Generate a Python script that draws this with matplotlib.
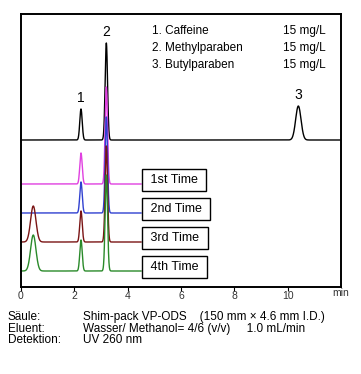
import numpy as np
import matplotlib
matplotlib.use('Agg')
import matplotlib.pyplot as plt

plt.rcParams['font.family'] = ['Liberation Sans', 'DejaVu Sans']

# Peak tables (retention time in min, height, sigma) per trace
std_rt = [2.25, 3.2, 10.4]
std_height = [31, 97, 34]
std_sigma = [0.045, 0.045, 0.1]

run_names = ['1st Time', '2nd Time', '3rd Time', '4th Time']
run_colors = ['#e040e0', '#3040d0', '#7a1414', '#2a8a2a']
run_offsets = [103, 74, 45, 16]
run_rt = [[2.25, 3.2], [2.25, 3.2], [0.46, 2.25, 3.2], [0.46, 2.25, 3.2]]
run_height = [[31, 97], [31, 96], [36, 31, 96], [36, 31, 96]]
run_sigma = [[0.045, 0.045], [0.045, 0.045], [0.1, 0.045, 0.045], [0.1, 0.045, 0.045]]

std_offset = 147
compounds = ['1. Caffeine', '2. Methylparaben', '3. Butylparaben']
concs = ['15 mg/L', '15 mg/L', '15 mg/L']
peak_labels = ['1', '2', '3']
xticks = [0, 2, 4, 6, 8, 10]


def trace(t, rts, hs, sig):
    y = np.zeros_like(t)
    for r, h, s in zip(rts, hs, sig):
        y += h * np.exp(-0.5 * ((t - r) / s) ** 2)
    return y


fig = plt.figure(figsize=(3.61, 3.74), dpi=100)
ax = fig.add_axes([21 / 361, 87 / 374, 320 / 361, 273 / 374])

t_full = np.linspace(0, 12, 3000)
ax.plot(t_full, std_offset + trace(t_full, std_rt, std_height, std_sigma), color='black', lw=1.0)
for rt, h, lab in zip(std_rt, std_height, peak_labels):
    ax.text(rt, std_offset + h + 4, lab, ha='center', va='bottom', fontsize=10)

t_run = np.linspace(0, 4.5, 1500)
for name, c, off, rts, hs, sg in zip(run_names, run_colors, run_offsets, run_rt, run_height, run_sigma):
    ax.plot(t_run, off + trace(t_run, rts, hs, sg), color=c, lw=1.0)
    ax.text(4.72, off + 4, ' ' + name + ' ', ha='left', va='center', fontsize=9,
            bbox=dict(boxstyle='square,pad=0.42', fc='white', ec='black', lw=1.0))

for i, (cp, cc) in enumerate(zip(compounds, concs)):
    ax.text(4.9, 256 - i * 17, cp, ha='left', va='center', fontsize=8.5)
    ax.text(9.82, 256 - i * 17, cc, ha='left', va='center', fontsize=8.5)

ax.set_xlim(0, 12)
ax.set_ylim(0, 273)
ax.set_yticks([])
ax.set_xticks(xticks)
ax.set_xticklabels([str(v) for v in xticks], fontsize=7.5, color='#333333')
ax.tick_params(axis='x', length=3, width=0.8, pad=0)
ax.text(12, -6.5, 'min', ha='center', va='center', fontsize=7.5, color='#333333', clip_on=False)
for sp in ax.spines.values():
    sp.set_linewidth(1.4)

rows = [('Säule:', 'Shim-pack VP-ODS    (150 mm × 4.6 mm I.D.)'),
        ('Eluent:', 'Wasser/ Methanol= 4/6 (v/v)     1.0 mL/min'),
        ('Detektion:', 'UV 260 nm')]
for i, (k, v) in enumerate(rows):
    yy = 1 - (317 + i * 11.7) / 374
    fig.text(8 / 361, yy, k, ha='left', va='center', fontsize=8.5)
    fig.text(83 / 361, yy, v, ha='left', va='center', fontsize=8.5)

fig.savefig('out.png', dpi=100)
